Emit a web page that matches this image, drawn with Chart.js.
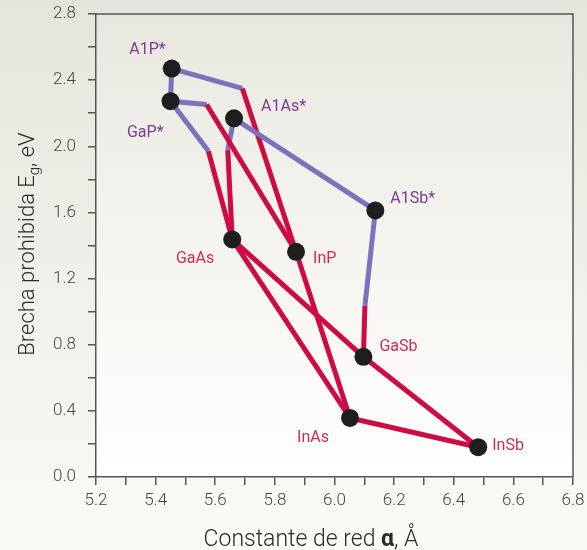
<!DOCTYPE html>
<html>
<head>
<meta charset="utf-8">
<script src="https://cdn.jsdelivr.net/npm/chart.js@4"></script>
<style>
  html, body { margin: 0; padding: 0; background: #f2f1ec; }
  #wrap { width: 587px; height: 550px; position: relative; }
</style>
</head>
<body>
<div id="wrap"><canvas id="myChart" width="587" height="550"></canvas></div>
<script>
// compuestos III-V : constante de red (A) y brecha (eV)
const compounds = ['A1P*', 'GaP*', 'A1As*', 'A1Sb*', 'GaAs', 'InP', 'GaSb', 'InAs', 'InSb'];
const latticeA = [5.454, 5.450, 5.663, 6.137, 5.657, 5.871, 6.097, 6.052, 6.482];
const gapEg = [2.47, 2.273, 2.169, 1.612, 1.437, 1.362, 0.727, 0.357, 0.180];
const isIndirect = [true, true, true, true, false, false, false, false, false];

// uniones: todo morado (indirecto)
const purpleFrom = [0, 2];
const purpleTo = [1, 3];
// uniones con cambio morado -> rojo en un punto
const mixedFrom = [0, 1, 1, 2, 3];
const mixedTo = [5, 5, 4, 4, 6];
const breakA = [5.691, 5.571, 5.577, 5.642, 6.102];
const breakEg = [2.350, 2.253, 1.971, 1.977, 1.034];
// uniones todo rojo (directo)
const redFrom = [4, 4, 5, 6, 7];
const redTo = [6, 7, 7, 8, 8];

const xTicks = { min: 5.2, max: 6.8, step: 0.1 };
const yTicks = { min: 0, max: 2.8, step: 0.2 };

const PURPLE = '#7b72bb';
const RED = '#cc0c42';
const FONT = "Roboto, 'Open Sans', sans-serif";

const pt = (i) => ({ x: latticeA[i], y: gapEg[i] });
const lineSet = (data, color) => ({
    data: data,
    showLine: true,
    borderColor: color,
    borderWidth: 5,
    pointRadius: 0,
    borderCapStyle: 'butt',
    borderJoinStyle: 'miter',
    order: 2,
});

const datasets = [];
// puntos (encima de todo)
datasets.push({
    data: compounds.map((c, i) => pt(i)),
    showLine: false,
    pointRadius: 9,
    pointBackgroundColor: '#1e1e1e',
    pointBorderWidth: 0,
    order: 0,
});
purpleFrom.forEach((f, k) => datasets.push(lineSet([pt(f), pt(purpleTo[k])], PURPLE)));
mixedFrom.forEach((f, k) => {
    const b = { x: breakA[k], y: breakEg[k] };
    datasets.push(lineSet([b, pt(mixedTo[k])], RED));
    datasets.push(lineSet([pt(f), b], PURPLE));
});
redFrom.forEach((f, k) => datasets.push(lineSet([pt(f), pt(redTo[k])], RED)));

// desplazamiento de etiquetas [dx, dy, align]
const labelPos = [
    [-6, -19, 'right'], [-7, 32, 'right'], [27, -11, 'left'], [15, -11, 'left'],
    [-18, 20, 'right'], [17, 7, 'left'], [16, -10, 'left'], [-21, 20, 'right'], [14, -1, 'left'],
];

const decor = {
    id: 'decor',
    beforeDraw(chart) {
        const { ctx, chartArea: a, width, height } = chart;
        ctx.save();
        let g = ctx.createLinearGradient(0, 0, 0, height);
        g.addColorStop(0, '#e6e5dc');
        g.addColorStop(1, '#fafaf7');
        ctx.fillStyle = g;
        ctx.fillRect(0, 0, width, height);
        g = ctx.createLinearGradient(0, a.top, 0, a.bottom);
        g.addColorStop(0, '#e8e7df');
        g.addColorStop(0.55, '#f6f5f1');
        g.addColorStop(1, '#ffffff');
        ctx.fillStyle = g;
        ctx.fillRect(a.left, a.top, a.right - a.left, a.bottom - a.top);
        ctx.restore();
    },
    afterDatasetsDraw(chart) {
        const { ctx, scales } = chart;
        ctx.save();
        ctx.font = '400 16px ' + FONT;
        ctx.textBaseline = 'middle';
        compounds.forEach((name, i) => {
            const px = scales.x.getPixelForValue(latticeA[i]);
            const py = scales.y.getPixelForValue(gapEg[i]);
            ctx.fillStyle = isIndirect[i] ? '#7e3a8e' : '#d4285a';
            ctx.textAlign = labelPos[i][2];
            ctx.fillText(name, px + labelPos[i][0], py + labelPos[i][1]);
        });
        ctx.restore();
    },
    afterDraw(chart) {
        const { ctx, chartArea: a } = chart;
        ctx.save();
        // borde superior y derecho
        ctx.strokeStyle = '#555';
        ctx.lineWidth = 1.5;
        ctx.beginPath();
        ctx.moveTo(a.left, a.top);
        ctx.lineTo(a.right, a.top);
        ctx.lineTo(a.right, a.bottom);
        ctx.stroke();

        ctx.fillStyle = '#2a2a2a';
        ctx.textBaseline = 'alphabetic';
        // titulo eje x
        const parts = [['Constante de red ', '300 23px ' + FONT], ['\u03b1', '700 23px ' + FONT], [', \u00c5', '300 23px ' + FONT]];
        let total = 0;
        parts.forEach(p => { ctx.font = p[1]; total += ctx.measureText(p[0]).width; });
        let x = 311 - total / 2;
        ctx.textAlign = 'left';
        parts.forEach(p => { ctx.font = p[1]; ctx.fillText(p[0], x, 546); x += ctx.measureText(p[0]).width; });

        // titulo eje y con subindice
        ctx.translate(34, 244);
        ctx.rotate(-Math.PI / 2);
        const ya = 'Brecha prohibida E', sub = 'g', yb = ', eV';
        ctx.font = '300 22px ' + FONT;
        const wa = ctx.measureText(ya).width, wb = ctx.measureText(yb).width;
        ctx.font = '300 15px ' + FONT;
        const ws = ctx.measureText(sub).width;
        let sx = -(wa + ws + wb) / 2;
        ctx.font = '300 22px ' + FONT;
        ctx.fillText(ya, sx, 0);
        sx += wa;
        ctx.font = '300 15px ' + FONT;
        ctx.fillText(sub, sx, 5);
        sx += ws;
        ctx.font = '300 22px ' + FONT;
        ctx.fillText(yb, sx, 0);
        ctx.restore();
    },
};

const config = {
    type: 'scatter',
    data: { datasets: datasets },
    options: {
        responsive: false,
        animation: false,
        events: [],
        layout: { padding: { top: 14, right: 14, left: 0, bottom: 0 } },
        plugins: { legend: false, tooltip: false },
        scales: {
            x: {
                type: 'linear',
                min: xTicks.min,
                max: xTicks.max,
                afterFit: (s) => { s.height = 73; s.paddingLeft = 0; s.paddingRight = 0; },
                grid: { drawOnChartArea: false, tickLength: 8, color: '#555', lineWidth: 1.5 },
                border: { color: '#555', width: 1.5 },
                ticks: {
                    stepSize: xTicks.step,
                    autoSkip: false,
                    maxRotation: 0,
                    padding: 6,
                    color: '#444',
                    font: { family: FONT, size: 17, weight: '300' },
                    callback: (v) => Math.round(v * 10) % 2 === 0 ? v.toFixed(1) : '',
                },
            },
            y: {
                type: 'linear',
                min: yTicks.min,
                max: yTicks.max,
                afterFit: (s) => { s.width = 96; s.paddingTop = 0; s.paddingBottom = 0; },
                grid: { drawOnChartArea: false, tickLength: 8, color: '#555', lineWidth: 1.5 },
                border: { color: '#555', width: 1.5 },
                ticks: {
                    stepSize: yTicks.step,
                    autoSkip: false,
                    padding: 12,
                    color: '#444',
                    font: { family: FONT, size: 17, weight: '300' },
                    callback: (v) => Math.round(v * 10) % 4 === 0 ? v.toFixed(1) : '',
                },
            },
        },
    },
    plugins: [decor],
};

const myChart = new Chart(document.getElementById('myChart'), config);
</script>
</body>
</html>
